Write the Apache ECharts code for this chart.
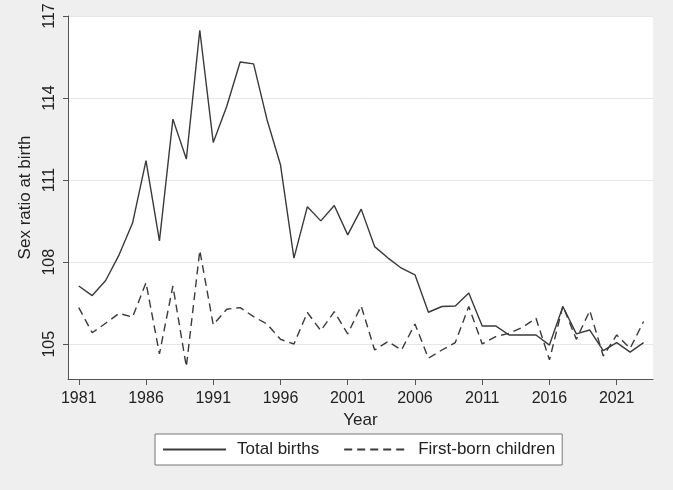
<!DOCTYPE html>
<html>
<head>
<meta charset="utf-8">
<script src="https://cdn.jsdelivr.net/npm/echarts@6/dist/echarts.min.js"></script>
<style>
  html, body { margin: 0; padding: 0; background: #efefef; }
  #chart { width: 673px; height: 490px; }
</style>
</head>
<body>
<div id="chart"></div>
<script>
const years = [];
for (let y = 1981; y <= 2023; y++) years.push(y);

const totalBirths = [
  107.13, 106.78, 107.33, 108.27, 109.43, 111.71, 108.78, 113.23, 111.77, 116.48,
  112.38, 113.69, 115.32, 115.25, 113.21, 111.56, 108.15, 110.03, 109.51, 110.07,
  109.0, 109.94, 108.57, 108.15, 107.78, 107.54, 106.17, 106.38, 106.40, 106.87,
  105.67, 105.67, 105.34, 105.34, 105.34, 104.97, 106.38, 105.38, 105.52, 104.77,
  105.06, 104.71, 105.06
];
const firstBorn = [
  106.34, 105.42, 105.77, 106.13, 105.99, 107.25, 104.65, 107.13, 104.18, 108.43,
  105.71, 106.28, 106.34, 106.01, 105.74, 105.18, 105.01, 106.16, 105.50, 106.19,
  105.38, 106.40, 104.79, 105.10, 104.79, 105.74, 104.49, 104.79, 105.06, 106.38,
  105.01, 105.28, 105.40, 105.62, 105.95, 104.43, 106.40, 105.18, 106.23, 104.57,
  105.34, 104.85, 105.83
];
const xTicks = [1981, 1986, 1991, 1996, 2001, 2006, 2011, 2016, 2021];
const yTicks = [105, 108, 111, 114, 117];

const lineColor = '#3a3a3a';
const font = 'Liberation Sans, Arial, sans-serif';

const chart = echarts.init(document.getElementById('chart'));
chart.setOption({
  backgroundColor: '#efefef',
  animation: false,
  textStyle: { fontFamily: font },
  grid: {
    left: 68, right: 20, top: 16, bottom: 111,
    show: true, backgroundColor: '#ffffff', borderWidth: 0
  },
  legend: {
    left: 155, top: 434,
    padding: [7, 7, 7, 7],
    backgroundColor: '#ffffff',
    borderColor: '#777777',
    borderWidth: 1,
    borderRadius: 0,
    itemWidth: 63,
    itemHeight: 16,
    itemGap: 24,
    itemStyle: { opacity: 0 },
    textStyle: { fontSize: 17, color: '#222', padding: [0, 0, 0, 6], fontFamily: font },
    data: ['Total births', 'First-born children']
  },
  xAxis: {
    type: 'value',
    min: 1980.2,
    max: 2023.7,
    name: 'Year',
    nameLocation: 'middle',
    nameGap: 27,
    nameTextStyle: { fontSize: 17, color: '#222' },
    axisLine: { show: true, lineStyle: { color: '#555', width: 1 } },
    axisTick: { show: true, length: 6, customValues: xTicks, lineStyle: { color: '#555' } },
    axisLabel: {
      customValues: xTicks, fontSize: 16, color: '#222', margin: 12,
      formatter: v => String(v)
    },
    splitLine: { show: false }
  },
  yAxis: {
    type: 'value',
    min: 103.73,
    max: 117,
    name: 'Sex ratio at birth',
    nameLocation: 'middle',
    nameGap: 29,
    nameRotate: 90,
    nameTextStyle: { fontSize: 17, color: '#222' },
    axisLine: { show: true, lineStyle: { color: '#555', width: 1 } },
    axisTick: { show: true, length: 5, customValues: yTicks, lineStyle: { color: '#555' } },
    axisLabel: {
      customValues: yTicks, fontSize: 16, color: '#222', rotate: 90, margin: 10,
      formatter: v => String(v)
    },
    splitLine: { show: true, lineStyle: { color: '#e6e6e6', width: 1 } }
  },
  series: [
    {
      name: 'Total births',
      type: 'line',
      symbol: 'none',
      data: years.map((y, i) => [y, totalBirths[i]]),
      lineStyle: { color: lineColor, width: 1.4 },
      itemStyle: { color: lineColor }
    },
    {
      name: 'First-born children',
      type: 'line',
      symbol: 'none',
      data: years.map((y, i) => [y, firstBorn[i]]),
      lineStyle: { color: lineColor, width: 1.4, type: [8, 5] },
      itemStyle: { color: lineColor }
    }
  ]
});
</script>
</body>
</html>
